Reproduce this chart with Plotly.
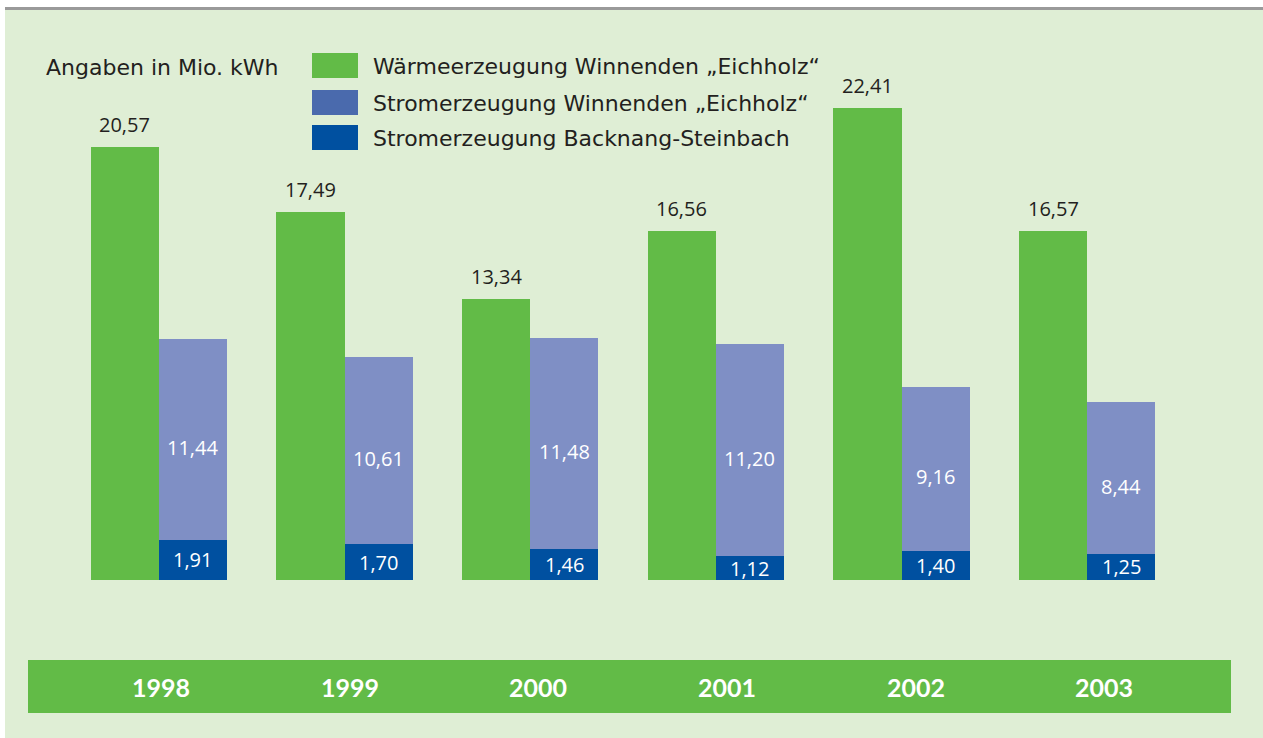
import plotly.graph_objects as go

years = ["1998", "1999", "2000", "2001", "2002", "2003"]
waerme = [20.57, 17.49, 13.34, 16.56, 22.41, 16.57]
strom_winnenden = [11.44, 10.61, 11.48, 11.20, 9.16, 8.44]
strom_backnang = [1.91, 1.70, 1.46, 1.12, 1.40, 1.25]
series_names = [
    "Wärmeerzeugung Winnenden „Eichholz“",
    "Stromerzeugung Winnenden „Eichholz“",
    "Stromerzeugung Backnang-Steinbach",
]
unit_label = "Angaben in Mio. kWh"

GREEN = "#62bb47"
LAV = "#7f8fc5"
LAV_LEG = "#4a6aad"
BLUE = "#0050a0"
BG = "#dfeed5"
TXT = "#231f20"
FONT = "DejaVu Sans"
NUMFONT = "Open Sans"

W, H = 1263, 738
BW = 0.367

def fmt(v):
    return f"{v:.2f}".replace(".", ",")

fig = go.Figure()
fig.add_bar(x=years, y=waerme, name=series_names[0], marker=dict(color=GREEN, line=dict(width=0)),
            width=BW, offset=-BW, showlegend=False, hoverinfo="skip")
fig.add_bar(x=years, y=strom_winnenden, name=series_names[1], marker=dict(color=LAV, line=dict(width=0)),
            width=BW, offset=0, showlegend=False, hoverinfo="skip")
fig.add_bar(x=years, y=strom_backnang, name=series_names[2], marker=dict(color=BLUE, line=dict(width=0)),
            width=BW, offset=0, showlegend=False, hoverinfo="skip")

ann = []
half_px = 34
for i, (yr, g, l, b) in enumerate(zip(years, waerme, strom_winnenden, strom_backnang)):
    ann.append(dict(x=i, y=g, xref="x", yref="y", text=fmt(g), showarrow=False,
                    xshift=-half_px, yshift=7, yanchor="bottom",
                    font=dict(family=NUMFONT, size=20, color=TXT)))
    ann.append(dict(x=i, y=(l + b) / 2, xref="x", yref="y", text=fmt(l), showarrow=False,
                    xshift=half_px, yshift=-8, yanchor="middle",
                    font=dict(family=NUMFONT, size=20, color="white")))
    ann.append(dict(x=i, y=b / 2, xref="x", yref="y", text=fmt(b), showarrow=False,
                    xshift=half_px, yanchor="middle",
                    font=dict(family=NUMFONT, size=20, color="white")))
    ann.append(dict(x=i, y=(738 - 687) / H, xref="x", yref="paper", text=f"<b>{yr}</b>",
                    showarrow=False, xshift=2 + 3 * i, yanchor="middle",
                    font=dict(family="Lato", size=25, color="white")))

# unit label and custom legend
ann.append(dict(x=44 / W, y=1 - 67 / H, xref="paper", yref="paper", text=unit_label,
                showarrow=False, xanchor="left", yanchor="middle",
                font=dict(family=FONT, size=22, color=TXT)))
shapes = []
sw_colors = [GREEN, LAV_LEG, BLUE]
sw_tops = [53, 90, 125]
for name, c, t in zip(series_names, sw_colors, sw_tops):
    shapes.append(dict(type="rect", xref="paper", yref="paper", x0=312 / W, x1=358 / W,
                       y0=1 - (t + 25) / H, y1=1 - t / H, fillcolor=c, line=dict(width=0)))
    ann.append(dict(x=371 / W, y=1 - (t + 13) / H, xref="paper", yref="paper", text=name,
                    showarrow=False, xanchor="left", yanchor="middle",
                    font=dict(family=FONT, size=22, color=TXT)))

# background panel, top rule, bottom band
shapes.insert(0, dict(type="rect", xref="paper", yref="paper", x0=5 / W, x1=1, y0=0, y1=1 - 8 / H,
                      fillcolor=BG, line=dict(width=0), layer="below"))
shapes.insert(1, dict(type="line", xref="paper", yref="paper", x0=5 / W, x1=1, y0=1 - 8.5 / H, y1=1 - 8.5 / H,
                      line=dict(color="#9a9a9a", width=3), layer="below"))
shapes.insert(2, dict(type="rect", xref="paper", yref="paper", x0=28 / W, x1=1231 / W,
                      y0=1 - 713 / H, y1=1 - 660 / H, fillcolor=GREEN, line=dict(width=0), layer="below"))

px_per_unit = 21.05
fig.update_layout(
    width=W, height=H, autosize=False,
    margin=dict(l=0, r=0, t=0, b=0, pad=0),
    paper_bgcolor="white", plot_bgcolor="rgba(0,0,0,0)",
    barmode="overlay", bargap=0,
    xaxis=dict(type="category", domain=[66 / W, 1180 / W], range=[-0.5, 5.5], showticklabels=False,
               showgrid=False, zeroline=False, showline=False, ticks=""),
    yaxis=dict(domain=[1 - 580 / H, 1], range=[0, 580 / px_per_unit], showticklabels=False,
               showgrid=False, zeroline=False, showline=False, ticks=""),
    annotations=ann, shapes=shapes, showlegend=False,
)
fig.write_html("out.html", config={"displayModeBar": False, "staticPlot": True},
               post_script="document.body.style.margin='0';document.body.style.overflow='hidden';")
